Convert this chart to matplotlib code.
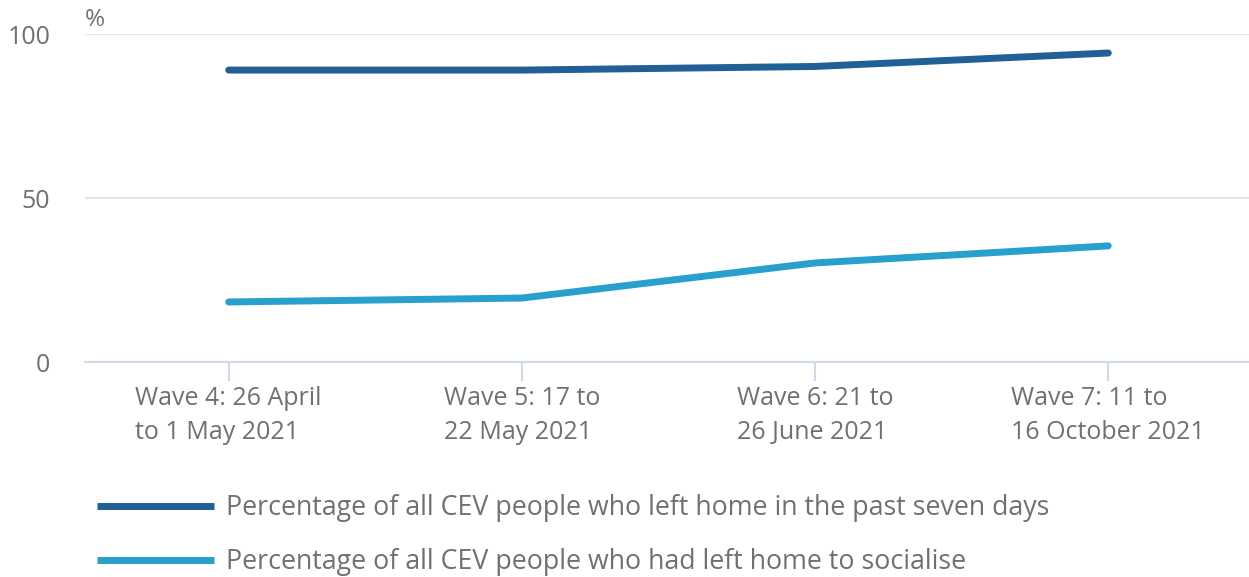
import matplotlib.pyplot as plt

waves = ["Wave 4: 26 April\nto 1 May 2021", "Wave 5: 17 to\n22 May 2021",
         "Wave 6: 21 to\n26 June 2021", "Wave 7: 11 to\n16 October 2021"]
left_home = [89.0, 89.0, 90.1, 94.2]
socialise = [18.3, 19.5, 30.2, 35.4]
series_names = ["Percentage of all CEV people who left home in the past seven days",
                "Percentage of all CEV people who had left home to socialise"]

plt.rcParams["font.family"] = ["Open Sans", "DejaVu Sans"]
text_col = "#707070"
axis_col = "#d0d9e8"

fig = plt.figure(figsize=(12.49, 5.77), dpi=100)
ax = fig.add_axes([85 / 1249, 1 - 362 / 577, 1 - 85 / 1249, (362 - 34) / 577])

x = range(len(waves))
ax.plot(x, left_home, color="#206095", lw=5, solid_capstyle="round", label=series_names[0])
ax.plot(x, socialise, color="#27a0cc", lw=5, solid_capstyle="round", label=series_names[1])

ax.set_xlim(-0.49, 3.48)
ax.set_ylim(0, 100)
ax.set_yticks([0, 50, 100])
ax.set_xticks(list(x))
ax.set_xticklabels(waves)
for lab in ax.get_xticklabels():
    lab.set_multialignment("left")
    lab.set_linespacing(1.5)

ax.grid(axis="y", color="#e6e6e6", lw=1.5)
ax.set_axisbelow(True)
for s in ["top", "right", "left"]:
    ax.spines[s].set_visible(False)
ax.spines["bottom"].set_color(axis_col)
ax.spines["bottom"].set_linewidth(1.5)
ax.spines["bottom"].set_zorder(1)

ax.tick_params(axis="x", length=14, width=1.5, color=axis_col, labelsize=18,
               labelcolor=text_col, pad=3)
ax.tick_params(axis="y", length=0, labelsize=18, labelcolor=text_col, pad=25)
ax.text(0, 1.005, "%", transform=ax.transAxes, fontsize=17.5, color=text_col,
        ha="left", va="bottom")

leg = fig.legend(loc="upper left", bbox_to_anchor=(97 / 1249, 1 - 494 / 577), frameon=False,
                 fontsize=19.3, labelcolor=text_col, handlelength=4.35, handletextpad=0.45,
                 labelspacing=0.97, borderaxespad=0, borderpad=0)
for h in leg.get_lines():
    h.set_solid_capstyle("butt")

fig.savefig("out.png", dpi=100)
